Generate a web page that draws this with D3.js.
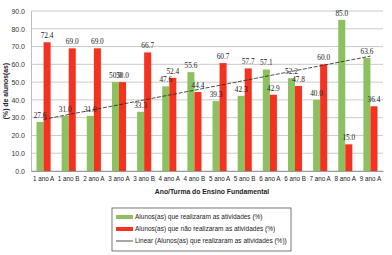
<!DOCTYPE html>
<html>
<head>
<meta charset="utf-8">
<script src="https://d3js.org/d3.v7.min.js"></script>
<style>
  body { margin: 0; background: #fff; }
  svg { display: block; }
</style>
</head>
<body>
<div id="chart"></div>
<script>
// dados do gráfico
var turmas = ["1 ano A", "1 ano B", "2 ano A", "3 ano A", "3 ano B", "4 ano A", "4 ano B",
              "5 ano A", "5 ano B", "6 ano A", "6 ano B", "7 ano A", "8 ano A", "9 ano A"];
var realizaram = [27.6, 31.0, 31.0, 50.0, 33.3, 47.6, 55.6, 39.3, 42.3, 57.1, 52.2, 40.0, 85.0, 63.6];
var naoRealizaram = [72.4, 69.0, 69.0, 50.0, 66.7, 52.4, 44.4, 60.7, 57.7, 42.9, 47.8, 60.0, 15.0, 36.4];
var yTicks = [0, 10, 20, 30, 40, 50, 60, 70, 80, 90];
var legendas = ["Alunos(as) que realizaram as atividades (%)",
                "Alunos(as) que  não realizaram as atividades (%)",
                "Linear (Alunos(as) que realizaram as atividades (%))"];

var W = 392, H = 255;
var margin = {top: 11, right: 9, bottom: 84, left: 31};
var width = W - margin.left - margin.right,
    height = H - margin.top - margin.bottom;

var verde = "#8dc05f", vermelho = "#f4321f";

var svg = d3.select("#chart").append("svg")
    .attr("width", W).attr("height", H)
    .style("font-family", "'Liberation Sans', Arial, sans-serif");

var g = svg.append("g").attr("transform", "translate(" + margin.left + "," + margin.top + ")");

var x = d3.scaleBand().domain(turmas).range([0, width]).paddingInner(0.44).paddingOuter(0.22);
var xs = d3.scaleBand().domain([0, 1]).range([0, x.bandwidth()]);
var y = d3.scaleLinear().domain([0, 90]).range([height, 0]);

// linhas de grade
g.append("g")
    .selectAll("line")
    .data(yTicks)
    .enter().append("line")
    .attr("x1", 0).attr("x2", width)
    .attr("y1", function (d) { return y(d); })
    .attr("y2", function (d) { return y(d); })
    .attr("stroke", "#bdbdbd").attr("stroke-width", 0.8);

// eixo Y
var yAxis = g.append("g")
    .call(d3.axisLeft(y).tickValues(yTicks).tickFormat(d3.format(".1f")).tickSize(0).tickPadding(6));
yAxis.select(".domain").attr("stroke", "#bdbdbd");
yAxis.selectAll("text").attr("font-size", "7px").attr("fill", "#333");

// eixo X
var xAxis = g.append("g")
    .attr("transform", "translate(0," + height + ")")
    .call(d3.axisBottom(x).tickSize(0).tickPadding(6));
xAxis.select(".domain").attr("stroke", "#9a9a9a");
xAxis.selectAll("text").attr("font-size", "6.3px").attr("fill", "#222");

var series = [realizaram, naoRealizaram];
var cores = [verde, vermelho];

series.forEach(function (vals, si) {
    g.append("g").selectAll("rect")
        .data(vals)
        .enter().append("rect")
        .attr("x", function (d, i) { return x(turmas[i]) + xs(si); })
        .attr("width", xs.bandwidth())
        .attr("y", function (d) { return y(d); })
        .attr("height", function (d) { return height - y(d); })
        .attr("fill", cores[si]);
});

// linha de tendência (regressão linear da série verde)
var n = realizaram.length;
var mx = d3.mean(d3.range(n)), my = d3.mean(realizaram);
var b = d3.sum(d3.range(n), function (i) { return (i - mx) * (realizaram[i] - my); }) /
        d3.sum(d3.range(n), function (i) { return (i - mx) * (i - mx); });
var a = my - b * mx;
var cx = function (i) { return x(turmas[i]) + x.bandwidth() / 2; };
g.append("line")
    .attr("x1", cx(0)).attr("y1", y(a))
    .attr("x2", cx(n - 1)).attr("y2", y(a + b * (n - 1)))
    .attr("stroke", "#222").attr("stroke-width", 0.8)
    .attr("stroke-dasharray", "4,1.5");

// rótulos de dados
series.forEach(function (vals, si) {
    g.append("g").selectAll("text")
        .data(vals)
        .enter().append("text")
        .attr("x", function (d, i) { return x(turmas[i]) + xs(si) + xs.bandwidth() / 2; })
        .attr("y", function (d) { return y(d) - 4; })
        .attr("text-anchor", "middle")
        .attr("font-family", "'Liberation Serif', serif")
        .attr("font-size", "7.3px")
        .attr("fill", "#222")
        .text(function (d) { return d.toFixed(1); });
});

// títulos dos eixos
svg.append("text")
    .attr("x", margin.left + width / 2 + 5).attr("y", 194)
    .attr("text-anchor", "middle")
    .attr("font-size", "6.8px").attr("font-weight", "bold").attr("fill", "#222")
    .text("Ano/Turma do Ensino Fundamental");

svg.append("text")
    .attr("transform", "translate(8," + (margin.top + height / 2) + ") rotate(-90)")
    .attr("text-anchor", "middle")
    .attr("font-size", "6.8px").attr("font-weight", "bold").attr("fill", "#222")
    .text("(%) de alunos(as)");

// legenda
var lg = svg.append("g").attr("transform", "translate(112,208)");
lg.append("rect")
    .attr("width", 179).attr("height", 43)
    .attr("fill", "#fff").attr("stroke", "#555").attr("stroke-width", 0.8);
legendas.forEach(function (t, i) {
    var yy = 9 + i * 12;
    if (i < 2) {
        lg.append("rect").attr("x", 4).attr("y", yy - 2).attr("width", 17).attr("height", 4).attr("fill", cores[i]);
    } else {
        lg.append("line").attr("x1", 4).attr("x2", 21).attr("y1", yy).attr("y2", yy)
            .attr("stroke", "#222").attr("stroke-width", 0.8);
    }
    lg.append("text").attr("x", 23).attr("y", yy + 2.3)
        .attr("font-size", "6.5px").attr("fill", "#222").text(t);
});
</script>
</body>
</html>
